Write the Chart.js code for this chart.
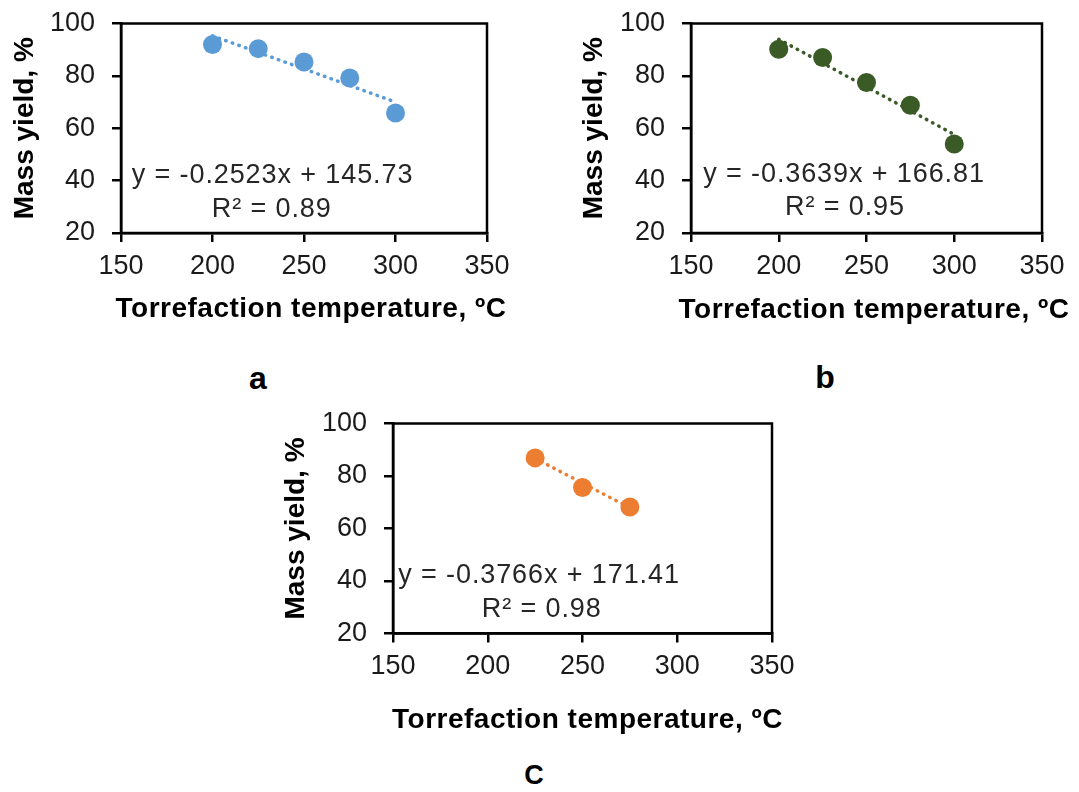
<!DOCTYPE html>
<html>
<head>
<meta charset="utf-8">
<script src="https://cdn.jsdelivr.net/npm/chart.js@4.4.0/dist/chart.umd.min.js"></script>
<style>
html, body { margin: 0; padding: 0; background: #fff; }
body { width: 1079px; height: 792px; position: relative; overflow: hidden; font-family: "Liberation Sans", Arial, sans-serif; }
.box { position: absolute; }
.tag { position: absolute; font-weight: bold; font-size: 32px; color: #000; line-height: 1; transform: translate(-50%, -50%); }
</style>
</head>
<body>
<div class="box" id="boxA"><canvas id="chartA"></canvas></div>
<div class="box" id="boxB"><canvas id="chartB"></canvas></div>
<div class="box" id="boxC"><canvas id="chartC"></canvas></div>
<div class="tag" style="left:258px;top:378px">a</div>
<div class="tag" style="left:825px;top:377px">b</div>
<div class="tag" style="left:534px;top:775px;font-size:27px">C</div>

<script>
// values
const xTicks = [150, 200, 250, 300, 350];
const yTicks = [20, 40, 60, 80, 100];

const tempsA = [200, 225, 250, 275, 300];
const yieldA = [92.0, 90.4, 85.3, 79.2, 65.8];
const fitXA = [200, 300];
const fitYA = [95.3, 70.0];
const eqA = ["y = -0.2523x + 145.73", "R² = 0.89"];

const tempsB = [200, 225, 250, 275, 300];
const yieldB = [90.2, 87.0, 77.5, 68.8, 54.0];
const fitXB = [200, 300];
const fitYB = [94.0, 57.6];
const eqB = ["y = -0.3639x + 166.81", "R² = 0.95"];

const tempsC = [225, 250, 275];
const yieldC = [86.9, 75.6, 68.2];
const fitXC = [225, 275];
const fitYC = [86.7, 67.9];
const eqC = ["y = -0.3766x + 171.41", "R² = 0.98"];

const xTitle = "Torrefaction temperature, ºC";
const yTitle = "Mass yield, %";

const FONT = '"Liberation Sans", Arial, sans-serif';

function pts(xs, ys) { return xs.map((x, i) => ({ x: x, y: ys[i] })); }

// frame round the plot + equation and axis titles
const extras = {
  id: "extras",
  afterDraw(chart, args, o) {
    const ctx = chart.ctx;
    const ca = chart.chartArea;
    ctx.save();
    ctx.strokeStyle = "#000";
    ctx.lineWidth = 2.5;
    ctx.strokeRect(ca.left, ca.top, ca.right - ca.left, ca.bottom - ca.top);

    // trendline equation
    ctx.fillStyle = "#262626";
    ctx.font = "27px " + FONT;
    ctx.textAlign = "center";
    ctx.textBaseline = "alphabetic";
    ctx.letterSpacing = "0.9px";
    ctx.fillText(o.eq[0], ca.left + o.eqPos[0], ca.top + o.eqPos[1]);
    ctx.fillText(o.eq[1], ca.left + o.eqPos[2], ca.top + o.eqPos[3]);

    // axis titles
    ctx.fillStyle = "#000";
    ctx.font = "bold 28px " + FONT;
    ctx.letterSpacing = "0.5px";
    ctx.fillText(xTitle, (ca.left + ca.right) / 2 + o.xTitleDx, ca.bottom + o.xTitleDy);
    ctx.letterSpacing = "0px";
    ctx.translate(o.yTitleX, (ca.top + ca.bottom) / 2);
    ctx.rotate(-Math.PI / 2);
    ctx.fillText(yTitle, 0, 0);
    ctx.restore();
  }
};

function makeChart(id, boxId, cfg) {
  const box = cfg.box, plot = cfg.plot;
  const el = document.getElementById(boxId);
  el.style.left = box.x + "px";
  el.style.top = box.y + "px";
  el.style.width = box.w + "px";
  el.style.height = box.h + "px";

  const tickFont = { family: FONT, size: 27, lineHeight: 1 };
  return new Chart(document.getElementById(id), {
    type: "scatter",
    data: {
      datasets: [
        {
          data: pts(cfg.fitX, cfg.fitY),
          showLine: true,
          borderColor: cfg.color,
          borderWidth: 3.5,
          borderDash: [0.5, 6.5],
          borderCapStyle: "round",
          pointRadius: 0
        },
        {
          data: pts(cfg.temps, cfg.yields),
          backgroundColor: cfg.color,
          borderWidth: 0,
          pointRadius: 9.5
        }
      ]
    },
    options: {
      responsive: true,
      maintainAspectRatio: false,
      animation: false,
      events: [],
      layout: { padding: { left: 0, bottom: 0, top: plot.t - box.y, right: box.x + box.w - plot.r } },
      plugins: {
        legend: { display: false },
        tooltip: { enabled: false },
        extras: {
          eq: cfg.eq,
          eqPos: cfg.eqPos,
          xTitleDx: cfg.xTitleDx,
          xTitleDy: cfg.xTitleDy,
          yTitleX: 32.5
        }
      },
      scales: {
        x: {
          type: "linear",
          min: xTicks[0],
          max: xTicks[xTicks.length - 1],
          afterBuildTicks: s => { s.ticks = xTicks.map(v => ({ value: v })); },
          afterFit: s => { s.height = box.y + box.h - plot.b; s.paddingLeft = 0; s.paddingRight = 0; },
          ticks: { font: tickFont, color: "#1a1a1a", padding: 11, maxRotation: 0, autoSkip: false },
          grid: { drawOnChartArea: false, drawTicks: true, tickLength: 9, color: "#000", lineWidth: 2.5 },
          border: { display: true, color: "#000", width: 2.5 }
        },
        y: {
          type: "linear",
          min: yTicks[0],
          max: yTicks[yTicks.length - 1],
          afterBuildTicks: s => { s.ticks = yTicks.map(v => ({ value: v })); },
          afterFit: s => { s.width = plot.l - box.x; s.paddingTop = 0; s.paddingBottom = 0; },
          ticks: { font: tickFont, color: "#1a1a1a", padding: 17 },
          grid: { drawOnChartArea: false, drawTicks: true, tickLength: 9, color: "#000", lineWidth: 2.5 },
          border: { display: true, color: "#000", width: 2.5 }
        }
      }
    },
    plugins: [extras]
  });
}

makeChart("chartA", "boxA", {
  color: "#5B9BD5",
  temps: tempsA, yields: yieldA, fitX: fitXA, fitY: fitYA, eq: eqA,
  box: { x: 0, y: 0, w: 520, h: 340 },
  plot: { l: 121, r: 487, t: 23.5, b: 233 },
  eqPos: [151.5, 159.8, 150.7, 193.8],
  xTitleDx: 7, xTitleDy: 84.3
});

makeChart("chartB", "boxB", {
  color: "#3A5A26",
  temps: tempsB, yields: yieldB, fitX: fitXB, fitY: fitYB, eq: eqB,
  box: { x: 569, y: 0, w: 510, h: 340 },
  plot: { l: 691, r: 1042, t: 23.5, b: 233 },
  eqPos: [153, 158.2, 154, 191.5],
  xTitleDx: 7.5, xTitleDy: 85
});

makeChart("chartC", "boxC", {
  color: "#ED7D31",
  temps: tempsC, yields: yieldC, fitX: fitXC, fitY: fitYC, eq: eqC,
  box: { x: 271, y: 400, w: 530, h: 350 },
  plot: { l: 393, r: 772, t: 423.5, b: 633.5 },
  eqPos: [146, 159.8, 148.7, 193.8],
  xTitleDx: 5, xTitleDy: 94.8
});
</script>
</body>
</html>
